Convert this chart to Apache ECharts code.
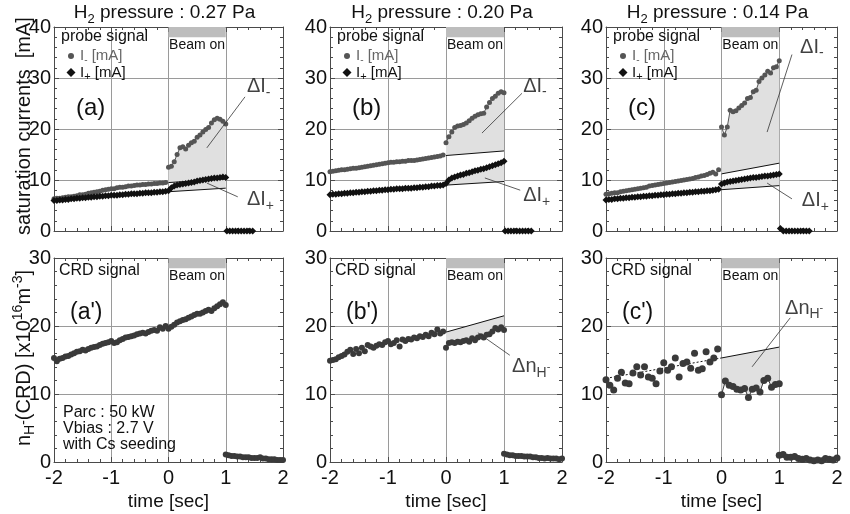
<!DOCTYPE html>
<html><head><meta charset="utf-8">
<script src="https://cdn.jsdelivr.net/npm/echarts/dist/echarts.min.js"></script>
<style>html,body{margin:0;padding:0;background:#fff}#c{width:850px;height:514px}</style>
</head><body><div id="c"></div>
<script>
// ---------------- DATA ----------------
const PRESSURES = ['0.27', '0.20', '0.14'];
const TOP_LABELS = ['(a)', '(b)', '(c)'];
const BOTTOM_LABELS = ["(a')", "(b')", "(c')"];
const X_MIN = -2, X_MAX = 2, X_STEP = 1;
const Y_TOP_MAX = 40, Y_BOTTOM_MAX = 30, Y_STEP = 10;

// sampling of the probe signals
const DT_PROBE = 0.05;
const T_PRE = -2, T_BEAM = 0, T_PROBE_OFF = 1.02;

// (a) 0.27 Pa : probe currents I- and I+ [mA]
const A_IM_PRE = [6.3,6.4,6.4,6.5,6.6,6.7,6.7,6.8,6.9,7.1, 7.1,7.2,7.4,7.5,7.6,7.7,7.8,8.0,8.1,8.2, 8.3,8.3,8.5,8.6,8.6,8.7,8.8,8.8,8.9,9.0, 9.0,9.1,9.1,9.2,9.2,9.3,9.3,9.4,9.4,9.5];
const A_IM_BEAM = [12.5,12.7,13.6,15.0,16.3,16.5,16.1,16.8,17.3,17.6,18.4,18.8,19.4,19.9,20.3,21.2,21.8,22.1,21.9,21.5,21.0];
const A_IP_PRE = [6.0,6.0,6.1,6.1,6.2,6.2,6.3,6.3,6.4,6.4, 6.5,6.5,6.6,6.6,6.7,6.7,6.8,6.8,6.9,6.9, 7.0,7.0,7.0,7.1,7.1,7.2,7.2,7.3,7.3,7.3, 7.4,7.4,7.5,7.5,7.5,7.6,7.6,7.7,7.7,7.8];
const A_IP_BEAM = [7.9,8.5,8.8,9.0,9.1,9.2,9.3,9.4,9.5,9.6,9.8,9.9,10.0,10.1,10.2,10.3,10.4,10.4,10.5,10.6,10.5];
const A_PROBE_OFF = [0,0,0,0,0,0,0,0,0,0];
const A_IM_BASE = [9.5, 10.2];   // extrapolated I- at t=0 and t=1
const A_IP_BASE = [7.7, 8.4];    // extrapolated I+ at t=0 and t=1

// (b) 0.20 Pa
const B_IM_PRE = [11.6,11.7,11.8,11.9,12.0,12.0,12.1,12.2,12.3,12.3, 12.4,12.5,12.6,12.7,12.8,12.9,13.0,13.1,13.2,13.3, 13.4,13.5,13.5,13.6,13.6,13.7,13.7,13.8,13.8,13.8, 13.9,14.0,14.1,14.2,14.3,14.4,14.5,14.6,14.7,14.9];
const B_IM_BEAM = [17.3,18.5,19.4,20.3,20.6,20.7,20.9,21.2,21.6,22.1,22.5,22.8,23.0,23.1,24.3,25.2,26.0,26.4,27.0,27.3,27.1];
const B_IP_PRE = [7.1,7.2,7.2,7.3,7.3,7.4,7.4,7.5,7.5,7.6, 7.6,7.7,7.7,7.8,7.8,7.9,7.9,8.0,8.0,8.1, 8.1,8.2,8.2,8.3,8.3,8.3,8.4,8.4,8.4,8.5, 8.5,8.6,8.6,8.7,8.7,8.8,8.8,8.9,8.9,9.0];
const B_IP_BEAM = [9.3,10.0,10.4,10.6,10.8,11.0,11.1,11.3,11.4,11.6,11.8,11.9,12.1,12.2,12.4,12.6,12.8,13.0,13.2,13.4,13.7];
const B_PROBE_OFF = [0,0,0,0,0,0,0,0,0,0];
const B_IM_BASE = [14.8, 15.7];
const B_IP_BASE = [9.0, 9.7];

// (c) 0.14 Pa
const C_IM_PRE = [7.2,7.3,7.4,7.5,7.5,7.7,7.8,7.9,8.0,8.1, 8.2,8.3,8.4,8.5,8.6,8.8,8.9,9.0,9.1,9.2, 9.3,9.4,9.5,9.6,9.7,9.8,9.9,10.0,10.1,10.2, 10.3,10.5,10.6,10.8,10.9,11.1,11.3,11.5,11.2,12.0];
const C_IM_BEAM = [20.4,18.8,20.4,23.7,23.4,23.6,24.1,24.6,25.1,26.0,26.2,27.3,27.6,29.3,30.0,30.6,31.3,31.0,32.0,32.2,33.4];
const C_IP_PRE = [6.1,6.2,6.2,6.3,6.3,6.4,6.4,6.5,6.5,6.6, 6.6,6.7,6.7,6.8,6.8,6.9,6.9,7.0,7.0,7.1, 7.1,7.2,7.2,7.3,7.3,7.4,7.4,7.5,7.5,7.6, 7.6,7.7,7.7,7.8,7.8,7.9,7.9,8.0,8.1,8.2];
const C_IP_BEAM = [9.2,9.4,9.6,9.7,9.8,9.9,10.0,10.1,10.2,10.3,10.4,10.5,10.5,10.6,10.7,10.8,10.8,10.9,11.0,11.1,11.2];
const C_PROBE_OFF = [0.5,0,0,0,0,0,0,0,0,0,0];
const C_IM_BASE = [11.2, 13.3];
const C_IP_BASE = [8.1, 8.9];

// CRD signal n_H- [x10^16 m^-3]
const DT_CRD = 0.05, T_CRD_OFF = 1.0;
const A_CRD = [15.3,14.8,15.2,15.3,15.5,15.6,15.8,16.0,16.2,16.3, 16.5,16.4,16.6,16.8,16.9,17.0,17.2,17.4,17.5,17.6, 17.8,17.5,17.6,17.9,18.1,18.3,18.4,18.5,18.6,18.8, 18.9,19.0,18.9,19.1,19.3,19.4,19.3,19.8,19.6,20.0, 19.6,19.9,20.2,20.5,20.7,20.9,21.0,21.2,21.4,21.6, 21.8,21.8,22.0,22.2,22.4,22.2,22.6,22.9,23.2,23.5, 23.1];
const A_CRD_OFF = [1.1,1.0,0.9,0.9,0.8,0.8,0.7,0.7,0.7,0.6,0.6,0.6,0.7,0.5,0.5,0.4,0.4,0.4,0.3,0.3,0.3];

const B_CRD_PRE = [14.9,15.0,15.1,15.4,15.6,15.8,16.2,16.5,15.9,16.6, 16.0,16.8,16.3,17.2,17.0,16.8,17.1,17.3,17.2,17.6, 17.8,17.3,17.5,17.9,17.0,18.0,17.8,18.1,18.0,18.3, 18.2,18.5,18.4,18.7,18.5,19.0,18.8,19.5,18.9,19.2];
const B_CRD_BEAM = [16.8,17.5,17.6,17.5,17.7,17.6,17.8,17.9,17.7,18.2,17.9,18.3,18.5,18.3,18.7,18.8,19.2,19.7,19.5,19.8,19.4];
const B_CRD_OFF = [1.2,1.1,1.0,1.0,0.9,0.9,0.9,0.8,0.8,0.8,0.7,0.7,0.6,0.6,0.5,0.6,0.5,0.5,0.5,0.4,0.5];
const B_CRD_BASE = [19.1, 21.5];

const DT_CRD_C = 1 / 15;
const C_CRD_PRE = [12.1,11.3,10.6,12.3,13.2,11.6,11.5,13.1,14.0,12.8, 14.0,12.5,12.3,11.5,13.4,14.6,13.5,14.0,15.3,12.5, 14.5,14.7,13.8,16.0,13.5,13.7,16.2,14.7,15.3,16.6];
const C_CRD_BEAM = [9.9,11.9,11.3,11.1,10.7,10.6,10.8,9.5,10.7,10.9,10.3,12.0,12.3,11.0,11.4,11.5];
const C_CRD_OFF = [1.0,1.1,0.7,0.7,0.8,0.5,0.4,0.5,0.3,0.2,0.3,0.2,0.5,0.4,0.3,0.6];
const C_CRD_TREND = [12.3, 15.3];  // dotted trend at t=-2 and t=0
const C_CRD_BASE = [15.3, 16.9];

// ---------------- LAYOUT / STYLE ----------------
const FONT = "'Liberation Sans', Arial, Helvetica, sans-serif";
const COLS = [{left: 54, width: 229}, {left: 330, width: 232}, {left: 606, width: 231}];
const ROWS = [{top: 27, height: 204}, {top: 258, height: 204}];
const C_IM = '#555', C_IP = '#111', C_CRD = '#3a3a3a', C_SHADE = '#e0e0e0';
const BEAM_BAR = [[38, 40], [28.5, 30]];

// annotation anchors in data coordinates
const TOP_ANN = [
  {dm: [1.37, 28.3], dmLead: [[1.336, 26.3], [0.67, 16.3]], dp: [1.37, 6.1], dpLead: [[1.21, 6.7], [0.67, 9.4]]},
  {dm: [1.33, 28.4], dmLead: [[1.31, 27.0], [0.62, 19.2]], dp: [1.33, 6.9], dpLead: [[1.28, 8.0], [0.67, 10.4]]},
  {dm: [1.36, 36.0], dmLead: [[1.22, 34.6], [0.79, 19.4]], dp: [1.39, 5.9], dpLead: [[1.22, 6.3], [0.79, 9.4]]}
];
const BOT_ANN = [null,
  {dn: [1.14, 14.0], dnLead: [[1.10, 15.7], [0.55, 19.0]]},
  {dn: [1.10, 22.6], dnLead: [[1.19, 21.2], [0.53, 14.0]]}
];

function seq(t0, dt, vals) { return vals.map((v, i) => [Math.round((t0 + i * dt) * 10000) / 10000, v]); }

const TOP = [
  {imPre: A_IM_PRE, imBeam: A_IM_BEAM, ipPre: A_IP_PRE, ipBeam: A_IP_BEAM, off: A_PROBE_OFF, imBase: A_IM_BASE, ipBase: A_IP_BASE},
  {imPre: B_IM_PRE, imBeam: B_IM_BEAM, ipPre: B_IP_PRE, ipBeam: B_IP_BEAM, off: B_PROBE_OFF, imBase: B_IM_BASE, ipBase: B_IP_BASE},
  {imPre: C_IM_PRE, imBeam: C_IM_BEAM, ipPre: C_IP_PRE, ipBeam: C_IP_BEAM, off: C_PROBE_OFF, imBase: C_IM_BASE, ipBase: C_IP_BASE}
];

const option = {animation: false, backgroundColor: '#fff', grid: [], xAxis: [], yAxis: [], series: [], graphic: []};
const S = option.series, G = option.graphic;

const tickCol = '#4a4a4a';
for (let r = 0; r < 2; r++) for (let c = 0; c < 3; c++) {
  option.grid.push({left: COLS[c].left, top: ROWS[r].top, width: COLS[c].width, height: ROWS[r].height, containLabel: false});
}
function axisCommon() {
  return {
    axisLine: {show: true, onZero: false, lineStyle: {color: tickCol, width: 1}},
    axisTick: {show: true, inside: true, length: 5, lineStyle: {color: tickCol}},
    minorTick: {show: true, splitNumber: 5, length: 3, lineStyle: {color: tickCol}}
  };
}
// main axes
for (let g = 0; g < 6; g++) {
  const r = Math.floor(g / 3);
  option.xAxis.push(Object.assign(axisCommon(), {
    type: 'value', gridIndex: g, min: X_MIN, max: X_MAX, interval: X_STEP, position: 'bottom',
    splitLine: {show: true, lineStyle: {color: '#9a9a9a', width: 1}},
    axisLabel: {show: r === 1, fontSize: 20, color: '#111', fontFamily: FONT, margin: 6},
    name: r === 1 ? 'time [sec]' : '', nameLocation: 'middle', nameGap: 30,
    nameTextStyle: {fontSize: 19, color: '#111', fontFamily: FONT}
  }));
  option.yAxis.push(Object.assign(axisCommon(), {
    type: 'value', gridIndex: g, min: 0, max: r === 0 ? Y_TOP_MAX : Y_BOTTOM_MAX, interval: Y_STEP, position: 'left',
    splitLine: {show: true, lineStyle: {color: '#9a9a9a', width: 1}},
    axisLabel: {show: true, fontSize: 20, color: '#111', fontFamily: FONT, margin: 3}
  }));
}
// mirror axes (frame ticks)
for (let g = 0; g < 6; g++) {
  const r = Math.floor(g / 3);
  option.xAxis.push(Object.assign(axisCommon(), {
    type: 'value', gridIndex: g, min: X_MIN, max: X_MAX, interval: X_STEP, position: 'top',
    splitLine: {show: false}, axisLabel: {show: false}
  }));
  option.yAxis.push(Object.assign(axisCommon(), {
    type: 'value', gridIndex: g, min: 0, max: r === 0 ? Y_TOP_MAX : Y_BOTTOM_MAX, interval: Y_STEP, position: 'right',
    splitLine: {show: false}, axisLabel: {show: false}
  }));
}

function shade(g, base, pts) {
  S.push({type: 'custom', xAxisIndex: g, yAxisIndex: g, z: 1, silent: true, data: [[0, base[0]]],
    renderItem: (p, api) => {
      const poly = [api.coord([0, base[0]])].concat(pts.map(d => api.coord(d)), [api.coord([1, base[1]])]);
      return {type: 'polygon', shape: {points: poly}, style: {fill: C_SHADE, stroke: null}};
    }});
}
function line(g, data, color, o = {}) {
  S.push({type: 'line', xAxisIndex: g, yAxisIndex: g, data, z: o.z || 3, silent: true,
    symbol: o.symbol || 'none', symbolSize: o.size || 0, showSymbol: !!o.symbol, showAllSymbol: true,
    itemStyle: {color}, lineStyle: {color, width: o.width == null ? 1 : o.width, type: o.type || 'solid'},
    markArea: o.markArea});
}
function scatter(g, data, color, symbol, size) {
  S.push({type: 'scatter', xAxisIndex: g, yAxisIndex: g, data, z: 4, silent: true,
    symbol, symbolSize: size, itemStyle: {color, opacity: 1}});
}
const RICH = {
  m: {fontSize: 20, fontFamily: FONT, color: '#111', lineHeight: 26},
  s: {fontSize: 14, fontFamily: FONT, color: '#111', verticalAlign: 'bottom', lineHeight: 15},
  sm: {fontSize: 11, fontFamily: FONT, color: '#111', verticalAlign: 'middle', lineHeight: 11}
};
function annText(g, pos, text) {
  S.push({type: 'scatter', xAxisIndex: g, yAxisIndex: g, z: 6, silent: true, symbolSize: 0,
    data: [pos], label: {show: true, position: 'right', distance: 0, formatter: text, rich: RICH}});
}
function beamArea(r) {
  return {silent: true, itemStyle: {color: '#bdbdbd'},
    label: {show: true, position: 'bottom', distance: 1, color: '#111', fontSize: 14, fontFamily: FONT},
    data: [[{name: 'Beam on', coord: [0, BEAM_BAR[r][0]]}, {coord: [1, BEAM_BAR[r][1]]}]]};
}

// ---- top row ----
for (let c = 0; c < 3; c++) {
  const g = c, P = TOP[c], A = TOP_ANN[c];
  const imBeam = seq(T_BEAM, DT_PROBE, P.imBeam), ipBeam = seq(T_BEAM, DT_PROBE, P.ipBeam);
  shade(g, P.imBase, imBeam);
  shade(g, P.ipBase, ipBeam);
  line(g, [[0, P.imBase[0]], [1, P.imBase[1]]], '#111', {width: 1, z: 2, markArea: beamArea(0)});
  line(g, [[0, P.ipBase[0]], [1, P.ipBase[1]]], '#111', {width: 1, z: 2});
  line(g, seq(T_PRE, DT_PROBE, P.imPre), C_IM, {symbol: 'circle', size: 5});
  line(g, imBeam, C_IM, {symbol: 'circle', size: 5});
  line(g, seq(T_PRE, DT_PROBE, P.ipPre), C_IP, {symbol: 'diamond', size: 7});
  line(g, ipBeam, C_IP, {symbol: 'diamond', size: 7});
  scatter(g, seq(T_PROBE_OFF, DT_PROBE, P.off), C_IP, 'diamond', 7);
  line(g, A.dmLead, '#333', {width: 0.8, z: 5});
  line(g, A.dpLead, '#333', {width: 0.8, z: 5});
  annText(g, A.dm, '{m|ΔI}{s|-}');
  annText(g, A.dp, '{m|ΔI}{s|+}');
}
// ---- bottom row ----
// (a')
line(3, [], '#111', {markArea: beamArea(1)});
scatter(3, seq(T_PRE, DT_CRD, A_CRD), C_CRD, 'circle', 6);
scatter(3, seq(T_CRD_OFF, DT_CRD, A_CRD_OFF), C_CRD, 'circle', 6);
// (b')
{
  const beam = seq(T_BEAM, DT_CRD, B_CRD_BEAM);
  shade(4, B_CRD_BASE, beam);
  line(4, [[0, B_CRD_BASE[0]], [1, B_CRD_BASE[1]]], '#111', {width: 1, z: 2, markArea: beamArea(1)});
  scatter(4, seq(T_PRE, DT_CRD, B_CRD_PRE), C_CRD, 'circle', 6);
  scatter(4, beam, C_CRD, 'circle', 6);
  scatter(4, seq(T_CRD_OFF, DT_CRD, B_CRD_OFF), C_CRD, 'circle', 6);
  line(4, BOT_ANN[1].dnLead, '#333', {width: 0.8, z: 5});
  annText(4, BOT_ANN[1].dn, '{m|Δn}{s|H}{sm|-}');
}
// (c')
{
  const beam = seq(T_BEAM, DT_CRD_C, C_CRD_BEAM);
  shade(5, C_CRD_BASE, beam);
  line(5, [[0, C_CRD_BASE[0]], [1, C_CRD_BASE[1]]], '#111', {width: 1, z: 2, markArea: beamArea(1)});
  line(5, [[-2, C_CRD_TREND[0]], [0, C_CRD_TREND[1]]], '#111', {width: 1, z: 2, type: [2, 2]});
  scatter(5, seq(T_PRE, DT_CRD_C, C_CRD_PRE), C_CRD, 'circle', 7);
  line(5, beam, C_CRD, {symbol: 'circle', size: 7, z: 4});
  scatter(5, seq(T_CRD_OFF, DT_CRD_C, C_CRD_OFF), C_CRD, 'circle', 7);
  line(5, BOT_ANN[2].dnLead, '#333', {width: 0.8, z: 5});
  annText(5, BOT_ANN[2].dn, '{m|Δn}{s|H}{sm|-}');
}

// ---- texts ----
function txt(x, y, text, size, o = {}) {
  G.push({type: 'text', x, y, rotation: o.rot || 0, z: 100, silent: true,
    style: {text, fontSize: size, fontFamily: FONT, fill: o.fill || '#111',
      align: o.align || 'left', verticalAlign: o.va || 'middle', rich: o.rich || {}}});
}
const R = (fs) => ({
  sub: {fontSize: fs, fontFamily: FONT, verticalAlign: 'bottom', lineHeight: fs + 1},
  sup: {fontSize: fs, fontFamily: FONT, verticalAlign: 'top', lineHeight: fs + 1},
  mid: {fontSize: fs, fontFamily: FONT, verticalAlign: 'middle', lineHeight: fs + 1},
  base: {fontSize: 20, fontFamily: FONT, lineHeight: 26},
  t: {fontSize: 19, fontFamily: FONT, lineHeight: 25},
  l: {fontSize: 15, fontFamily: FONT, lineHeight: 18}
});
for (let c = 0; c < 3; c++) {
  const L = COLS[c].left, cx = L + COLS[c].width / 2;
  txt(cx - 4, 13, '{t|H}{sub|2}{t| pressure : ' + PRESSURES[c] + ' Pa}', 19, {align: 'center', rich: R(13)});
  txt(L + 7, 37, 'probe signal', 16);
  G.push({type: 'circle', shape: {cx: L + 17, cy: 56, r: 3}, style: {fill: C_IM}, z: 100, silent: true});
  G.push({type: 'polygon', shape: {points: [[L + 17, 68], [L + 21.5, 72.5], [L + 17, 77], [L + 12.5, 72.5]]}, style: {fill: C_IP}, z: 100, silent: true});
  txt(L + 26, 56, '{l|I}{sub|-}{l| [mA]}', 15, {fill: '#666', rich: R(10)});
  txt(L + 26, 73, '{l|I}{sub|+}{l| [mA]}', 15, {fill: '#111', rich: R(11)});
  txt(L + 22, 108, TOP_LABELS[c], 24);
  txt(L + 5, 271, 'CRD signal', 16);
  txt(L + 16, 313, BOTTOM_LABELS[c], 23);
}
txt(63, 413, 'Parc : 50 kW', 16);
txt(63, 429, 'Vbias : 2.7 V', 16);
txt(63, 445, 'with Cs seeding', 16);
txt(24, 126, 'saturation currents  [mA]', 20, {align: 'center', rot: Math.PI / 2});
txt(24, 358, '{base|n}{sub|H}{mid|-}{base|(CRD) [x10}{sup|16}{base|m}{sup|-3}{base|]}', 20, {align: 'center', rot: Math.PI / 2, rich: R(14)});

const chart = echarts.init(document.getElementById('c'), null, {renderer: 'canvas'});
chart.setOption(option);
</script>
</body></html>
